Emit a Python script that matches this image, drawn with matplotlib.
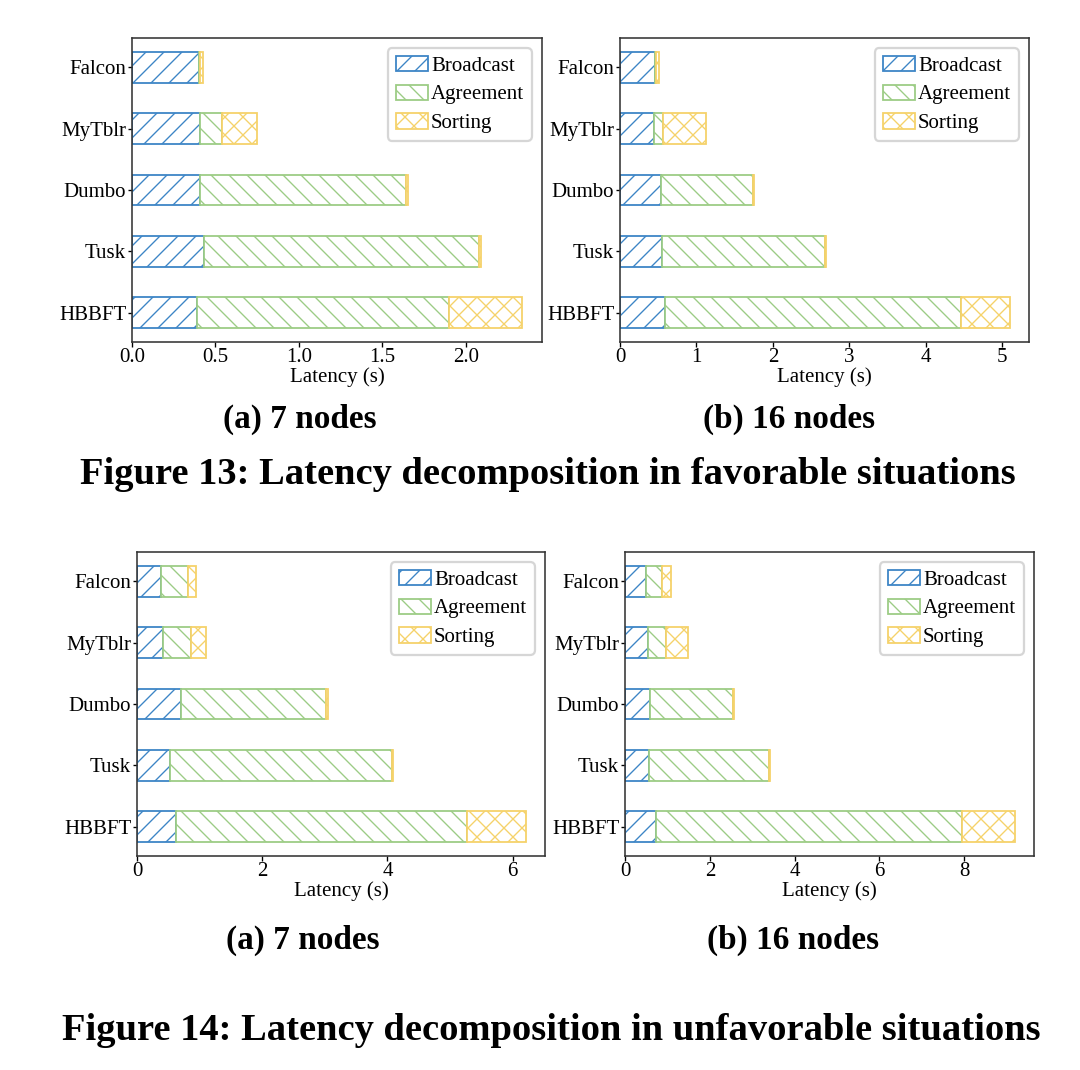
import numpy as np
import matplotlib
matplotlib.use('Agg')
import matplotlib.pyplot as plt
from matplotlib.ticker import MultipleLocator, FormatStrFormatter

# protocols, top to bottom
protocols = ['Falcon', 'MyTblr', 'Dumbo', 'Tusk', 'HBBFT']
phases = ['Broadcast', 'Agreement', 'Sorting']

# Figure 13: favorable situations (seconds)
fav7_broadcast = [0.40, 0.41, 0.41, 0.43, 0.39]
fav7_agreement = [0.005, 0.13, 1.23, 1.65, 1.51]
fav7_sorting = [0.02, 0.21, 0.014, 0.012, 0.44]

fav16_broadcast = [0.46, 0.445, 0.53, 0.545, 0.585]
fav16_agreement = [0.005, 0.12, 1.215, 2.13, 3.88]
fav16_sorting = [0.04, 0.555, 0.01, 0.013, 0.63]

# Figure 14: unfavorable situations (seconds)
unf7_broadcast = [0.39, 0.41, 0.705, 0.53, 0.625]
unf7_agreement = [0.425, 0.445, 2.32, 3.54, 4.65]
unf7_sorting = [0.12, 0.24, 0.02, 0.02, 0.93]

unf16_broadcast = [0.49, 0.535, 0.6, 0.575, 0.74]
unf16_agreement = [0.39, 0.43, 1.955, 2.825, 7.21]
unf16_sorting = [0.205, 0.525, 0.024, 0.024, 1.235]

colors = ['#3d85c6', '#9ccc85', '#f5d26a']
hatches = ['///', '\\\\\\', 'xxx']

DPI = 162
plt.rcParams['hatch.linewidth'] = 0.6
plt.rcParams['font.family'] = ['Liberation Serif', 'DejaVu Serif']
FS = 9.3

fig = plt.figure(figsize=(1080 / DPI, 1070 / DPI), dpi=DPI)


def px_axes(x0, y0, x1, y1):
    # axes rectangle given in pixel coords of the output image
    return fig.add_axes([x0 / 1080, 1 - y1 / 1070, (x1 - x0) / 1080, (y1 - y0) / 1070])


def draw_panel(ax, parts, step, fmt):
    y = np.arange(len(protocols))
    left = np.zeros(len(protocols))
    for vals, name, c, h in zip(parts, phases, colors, hatches):
        vals = np.array(vals)
        ax.barh(y, vals, height=0.5, left=left, color='white', edgecolor=c,
                hatch=h, linewidth=0.8, label=name)
        left += vals
    ax.set_yticks(y)
    ax.set_yticklabels(protocols)
    ax.invert_yaxis()
    ax.xaxis.set_major_locator(MultipleLocator(step))
    ax.xaxis.set_major_formatter(FormatStrFormatter(fmt))
    ax.tick_params(labelsize=FS, length=2, width=0.6, pad=0.6)
    ax.set_xlabel('Latency (s)', fontsize=FS, labelpad=0)
    for s in ax.spines.values():
        s.set_color('#333333')
        s.set_linewidth(0.7)
    ax.legend(loc='upper right', fontsize=FS, handlelength=1.55, handleheight=0.75,
              handletextpad=0.15, labelspacing=0.42, borderpad=0.35)


ax1 = px_axes(132, 38, 542, 342)
draw_panel(ax1, [fav7_broadcast, fav7_agreement, fav7_sorting], 0.5, '%.1f')
ax2 = px_axes(620, 38, 1029, 342)
draw_panel(ax2, [fav16_broadcast, fav16_agreement, fav16_sorting], 1, '%d')
ax3 = px_axes(137, 552, 545, 856)
draw_panel(ax3, [unf7_broadcast, unf7_agreement, unf7_sorting], 2, '%d')
ax4 = px_axes(625, 552, 1034, 856)
draw_panel(ax4, [unf16_broadcast, unf16_agreement, unf16_sorting], 2, '%d')

cap = dict(fontsize=14.8, fontweight='bold', ha='center', va='center')
fig.text(300 / 1080, 1 - 419 / 1070, '(a) 7 nodes', **cap)
fig.text(789 / 1080, 1 - 419 / 1070, '(b) 16 nodes', **cap)
fig.text(548 / 1080, 1 - 475 / 1070, 'Figure 13: Latency decomposition in favorable situations',
         fontsize=17.1, fontweight='bold', ha='center', va='center')
fig.text(303 / 1080, 1 - 940 / 1070, '(a) 7 nodes', **cap)
fig.text(793 / 1080, 1 - 940 / 1070, '(b) 16 nodes', **cap)
fig.text(551 / 1080, 1 - 1030 / 1070, 'Figure 14: Latency decomposition in unfavorable situations',
         fontsize=17.1, fontweight='bold', ha='center', va='center')

fig.savefig('out.png', dpi=DPI)
